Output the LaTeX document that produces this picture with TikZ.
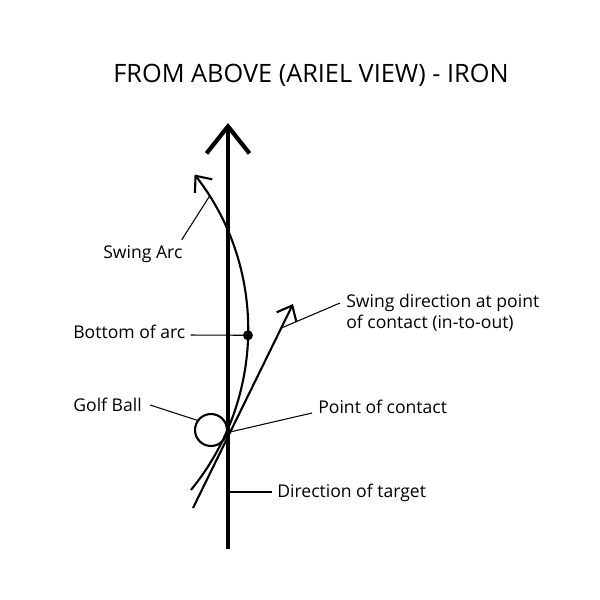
\documentclass[tikz,border=0pt]{standalone}
\usepackage{fontspec}
\setmainfont{Open Sans}
\usepackage{tikz}
\usetikzlibrary{arrows.meta, calc}
\tikzset{
  lbl/.style={anchor=base west, inner sep=0pt, font=\fontsize{10}{12}\selectfont},
  leader/.style={line width=0.6pt},
  swing/.style={line width=1.2pt, -{Straight Barb[length=2.6mm, width=4.4mm]}},
  target/.style={line width=2.4pt, -{Straight Barb[length=5.4mm, width=8.6mm]}},
  ball/.style={draw, circle, fill=white, line width=1.2pt, minimum size=0.64cm, inner sep=0pt}
}

\begin{document}
\begin{tikzpicture}[x=0.02cm, y=-0.02cm]
        \useasboundingbox (0,0) rectangle (600,600);

        % Title
        \node[anchor=base, inner sep=0pt, font=\fontsize{14.4}{17}\selectfont] (title) at (311,82) {FROM ABOVE (ARIEL VIEW) - IRON};

        % Key points
        \coordinate (arcC)     at (-4.77,330);
        \coordinate (arcStart) at ($(arcC)+(39.26:252.8)$);
        \coordinate (arcPt)    at ($(arcC)+(-32:252.8)$);
        \coordinate (dot)      at ($(arcC)+(1.2:252.8)$);
        \coordinate (dirStart) at (193,508);
        \coordinate (dirTip)   at (293,304);
        \coordinate (dirPt)    at ($(dirStart)!0.882!(dirTip)$);
        \coordinate (contact)  at (230,432);
        \coordinate (tgtBase)  at (228,549);
        \coordinate (tgtTip)   at (228,123);
        \coordinate (tgtPt)    at (228,492);

        % Ball
        \node[ball] (ball) at (211,430) {};

        % Target line, swing arc and swing direction
        \draw[target] (tgtBase) -- (tgtTip);
        \draw[swing] (arcStart) arc[start angle=39.26, end angle=-37.95, radius=252.8];
        \draw[swing] (dirStart) -- (dirTip);
        \fill (dot) circle (5);

        % Labels
        \node[lbl] (arcLbl)  at (103,258) {Swing Arc};
        \node[lbl] (botLbl)  at (73,338)  {Bottom of arc};
        \node[lbl] (ballLbl) at (73,411)  {Golf Ball};
        \node[lbl, anchor=north west, align=left] (dirLbl) at (346,294) {Swing direction at point\\of contact (in-to-out)};
        \node[lbl] (pocLbl)  at (318,413) {Point of contact};
        \node[lbl] (tgtLbl)  at (277,497) {Direction of target};

        % Leaders
        \draw[leader] ($(arcLbl.north east)+(-1,-5)$) -- (arcPt);
        \draw[leader] ($(botLbl.base east)+(5,-3)$) -- (dot);
        \draw[leader] ($(ballLbl.base east)+(8,-6)$) -- (ball.145);
        \draw[leader] ($(dirLbl.north west)+(-6,9)$) -- (dirPt);
        \draw[leader] ($(pocLbl.base west)+(-6,0)$) -- (contact);
        \draw[leader] ($(tgtLbl.base west)+(-5,-5)$) -- (tgtPt);
    \end{tikzpicture}
\end{document}
